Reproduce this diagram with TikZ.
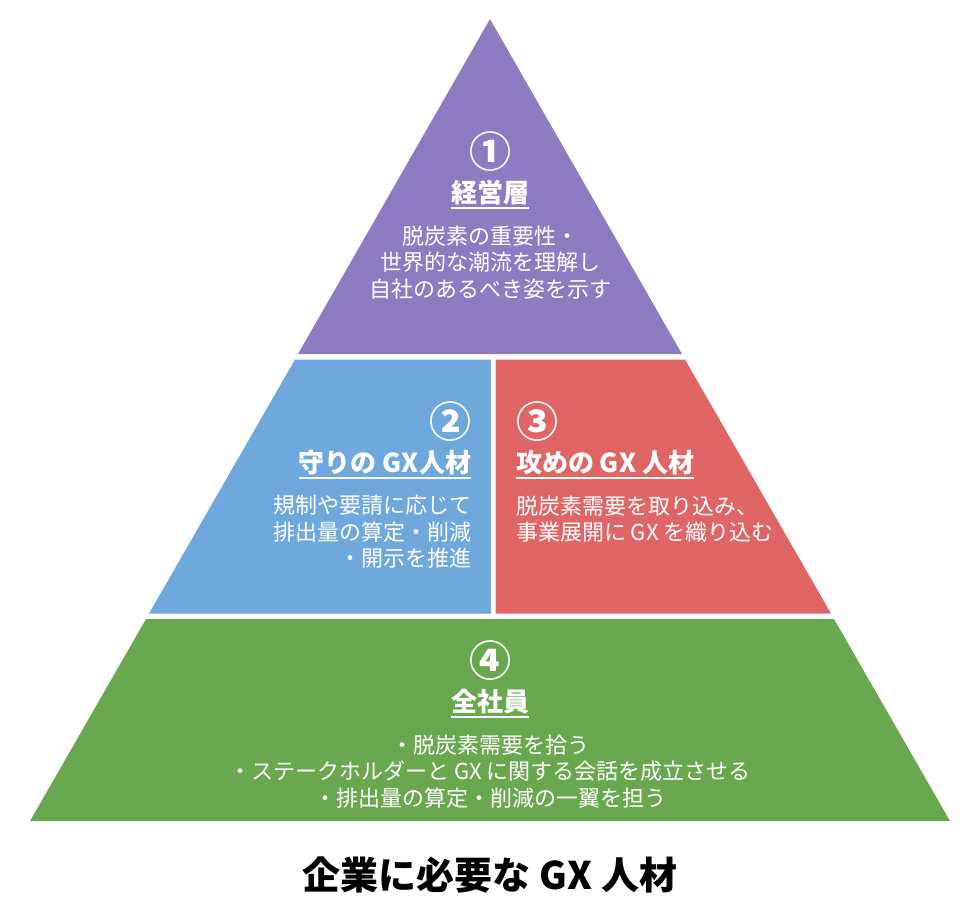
\documentclass[tikz,border=0pt]{standalone}
\usepackage{fontspec}
\setmainfont{Noto Sans CJK JP}
\usetikzlibrary{positioning}

\definecolor{topcol}{HTML}{8E7CC3}
\definecolor{defcol}{HTML}{6FA8DC}
\definecolor{offcol}{HTML}{E06666}
\definecolor{allcol}{HTML}{6AA84F}

\begin{document}
\begin{tikzpicture}[x=1pt, y=-1pt, every node/.style={inner sep=0pt, text=white},
  num/.style={font=\bfseries\fontsize{42}{42}\selectfont},
  head/.style={font=\bfseries\fontsize{26}{30}\selectfont},
  body/.style={font=\fontsize{22}{26.5}\selectfont, align=center},
  uline/.style={draw=white, line width=2pt},
  title/.style={text=black, font=\bfseries\fontsize{38}{40}\selectfont}]

\useasboundingbox (0,0) rectangle (980,910);

% pyramid corners
\coordinate (apex) at (490,19);
\coordinate (t1) at (298,354);
\coordinate (t2) at (682,354);
\coordinate (m1) at (295,359.5);
\coordinate (m2) at (491,359.5);
\coordinate (m3) at (495.5,359.5);
\coordinate (m4) at (685,359.5);
\coordinate (m5) at (149,613.5);
\coordinate (m6) at (491,613.5);
\coordinate (m7) at (495.5,613.5);
\coordinate (m8) at (831,613.5);
\coordinate (b1) at (146,619);
\coordinate (b2) at (834,619);
\coordinate (b3) at (30,821);
\coordinate (b4) at (950,821);

\fill[topcol] (apex) -- (t2) -- (t1) -- cycle;
\fill[defcol] (m1) -- (m2) -- (m6) -- (m5) -- cycle;
\fill[offcol] (m3) -- (m4) -- (m8) -- (m7) -- cycle;
\fill[allcol] (b1) -- (b2) -- (b4) -- (b3) -- cycle;

% top
\node[num]		(n1) at (490,152)		{①};
\node[head]		(h1) [below=8pt of n1]		{経営層};
\node[body]		(d1) [below=20pt of h1]		{脱炭素の重要性・\\世界的な潮流を理解し\\自社のあるべき姿を示す};

% left
\node[num]		(n2) at (450,422)		{②};
\node[head]		(h2) [below left=8pt and 0pt of n2.south east]	{守りの GX人材};
\node[body, align=right]	(d2) [below left=20pt and 0pt of h2.south east]	{規制や要請に応じて\\排出量の算定・削減\\・開示を推進};

% right
\node[num]		(n3) at (537,422)		{③};
\node[head]		(h3) [below right=8pt and 0pt of n3.south west]	{攻めの GX 人材};
\node[body, align=left]	(d3) [below right=20pt and 0pt of h3.south west]	{脱炭素需要を取り込み、\\事業展開に GX を織り込む};

% bottom
\node[num]		(n4) at (490,661)		{④};
\node[head]		(h4) [below=8pt of n4]		{全社員};
\node[body]		(d4) [below=20pt of h4]		{・脱炭素需要を拾う\\・ステークホルダーと GX に関する会話を成立させる\\・排出量の算定・削減の一翼を担う};

\foreach \h in {h1,h2,h3,h4}
  \draw[uline] ([yshift=-5.5pt]\h.base west) -- ([yshift=-5.5pt]\h.base east);

\node[title]	(ttl) at (490,875)		{企業に必要な GX 人材};

\end{tikzpicture}
\end{document}
